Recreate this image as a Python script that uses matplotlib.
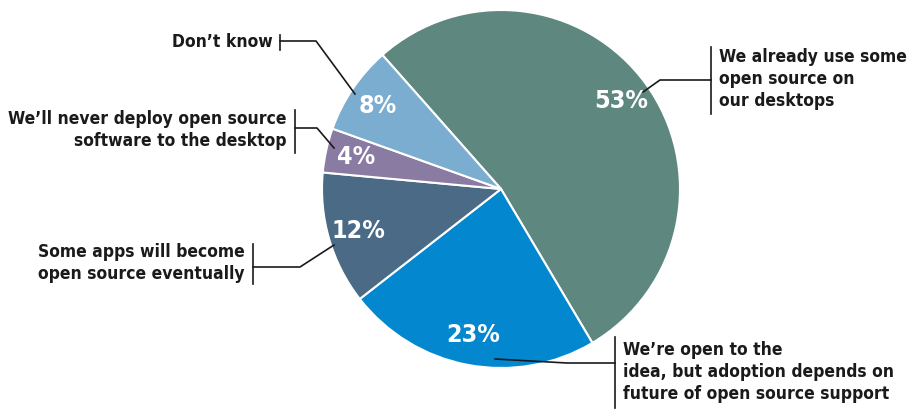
import matplotlib
matplotlib.use("Agg")
import matplotlib.pyplot as plt

plt.rcParams['font.family'] = ['DejaVu Sans']
plt.rcParams['font.stretch'] = 'condensed'

# data (clockwise from the top-left)
answers = ["We already use some\nopen source on\nour desktops",
           "We\u2019re open to the\nidea, but adoption depends on\nfuture of open source support",
           "Some apps will become\nopen source eventually",
           "We\u2019ll never deploy open source\nsoftware to the desktop",
           "Don\u2019t know"]
shares = [53, 23, 12, 4, 8]
colors = ["#5e8780", "#0388d0", "#4a6a85", "#8a7ba2", "#7badd0"]

W, H = 908, 411
fig = plt.figure(figsize=(W / 100, H / 100), dpi=100)
ax = fig.add_axes([0, 0, 1, 1])

cx, cy, r = 501, H - 189, 179
wedges, _, pcts = ax.pie(shares, colors=colors, startangle=131.5, counterclock=False,
                         center=(cx, cy), radius=r, autopct=lambda p: f'{round(p)}%',
                         pctdistance=0.83,
                         wedgeprops=dict(edgecolor='white', linewidth=1.5),
                         textprops=dict(color='white', fontsize=18, fontweight='bold'))
ax.set_xlim(0, W)
ax.set_ylim(0, H)
ax.set_aspect('equal')
ax.axis('off')


def Y(y):
    return H - y


# label text, bracket bar, leader line (pixel coords, y down)
layout = [
    dict(tx=719, ty=79, ha='left', bar=(711, 47, 114), line=[(711, 80), (660, 80), (643, 92)]),
    dict(tx=623, ty=372, ha='left', bar=(615, 337, 408), line=[(615, 363), (567, 363), (495, 359)]),
    dict(tx=245, ty=263, ha='right', bar=(253, 244, 284), line=[(253, 267), (300, 267), (334, 245)]),
    dict(tx=287, ty=130, ha='right', bar=(295, 110, 153), line=[(295, 128), (317, 128), (334, 148)]),
    dict(tx=273, ty=42, ha='right', bar=(280, 35, 50), line=[(280, 41), (316, 41), (355, 94)]),
]

for lab, lay in zip(answers, layout):
    ax.text(lay['tx'], Y(lay['ty']), lab, ha=lay['ha'], va='center', fontsize=12.5,
            fontweight='bold', color='#1a1a1a', linespacing=1.3)
    bx, b0, b1 = lay['bar']
    ax.plot([bx, bx], [Y(b0), Y(b1)], color='#1a1a1a', lw=1.2)
    xs = [p[0] for p in lay['line']]
    ys = [Y(p[1]) for p in lay['line']]
    ax.plot(xs, ys, color='#1a1a1a', lw=1.2)

fig.savefig("out.png", dpi=100, facecolor='white')
